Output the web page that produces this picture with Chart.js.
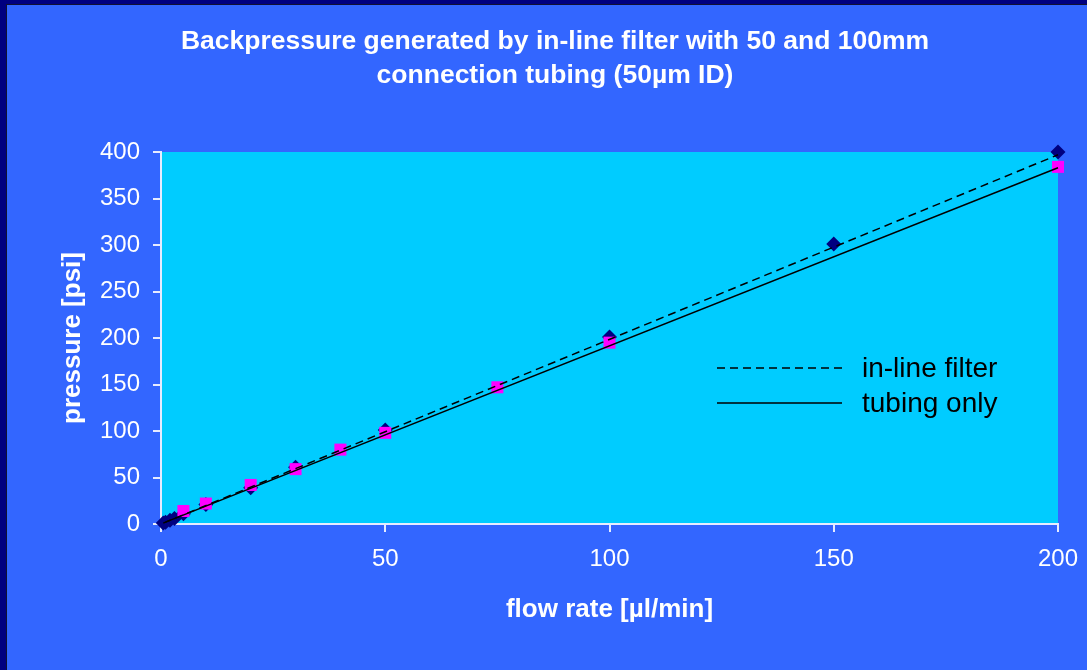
<!DOCTYPE html>
<html>
<head>
<meta charset="utf-8">
<title>Backpressure</title>
<script src="https://cdn.jsdelivr.net/npm/chart.js@4.4.1/dist/chart.umd.min.js"></script>
<style>
  html, body { margin: 0; padding: 0; background: #3366ff; }
  canvas { display: block; }
</style>
</head>
<body>
<canvas id="myChart" width="1087" height="670"></canvas>
<script>
// 유량(µl/min) 별 압력(psi) 측정값
var filterFlow = [0.5, 1, 2, 3, 5, 10, 20, 30, 50, 100, 150, 200];
var filterPressure = [1, 2, 4, 6, 11, 21, 39, 61, 101, 201, 301, 400];
var tubingFlow = [5, 10, 20, 30, 40, 50, 75, 100, 200];
var tubingPressure = [14, 22, 42, 59, 80, 98, 147, 195, 384];

// 추세선 양 끝점
var filterTrendFlow = [0.5, 200];
var filterTrendPressure = [1, 397];
var tubingTrendFlow = [1, 200];
var tubingTrendPressure = [2, 383];

var xTicks = [0, 50, 100, 150, 200];
var yTicks = [0, 50, 100, 150, 200, 250, 300, 350, 400];
var seriesNames = ['in-line filter', 'tubing only'];
var titleLines = ['Backpressure generated by in-line filter with 50 and 100mm', 'connection tubing (50\u00b5m ID)'];

var FONT = '"Liberation Sans", Arial, sans-serif';

function toPoints(xs, ys) {
    return xs.map(function (x, i) { return { x: x, y: ys[i] }; });
}

// 배경, 테두리, 플롯영역 색칠
var backgroundPlugin = {
    id: 'background',
    beforeDraw: function (chart) {
        var c = chart.ctx, a = chart.chartArea;
        c.save();
        c.fillStyle = '#000080';
        c.fillRect(0, 0, chart.width, chart.height);
        c.fillStyle = '#111133';
        c.fillRect(6, 4, chart.width, chart.height);
        c.fillStyle = '#3366ff';
        c.fillRect(7, 5, chart.width, chart.height);
        c.fillStyle = '#00ccff';
        c.fillRect(a.left, a.top, a.right - a.left, a.bottom - a.top);
        c.restore();
    }
};

// 제목 + 차트 안쪽 범례
var textPlugin = {
    id: 'texts',
    afterDraw: function (chart) {
        var c = chart.ctx;
        c.save();
        c.fillStyle = '#ffffff';
        c.font = 'bold 26.5px ' + FONT;
        c.textAlign = 'center';
        c.textBaseline = 'middle';
        c.fillText(titleLines[0], 555, 42);
        c.fillText(titleLines[1], 555, 76);

        var rows = [chart.data.datasets[0], chart.data.datasets[1]];
        var rowY = [368, 403];
        c.font = '28px ' + FONT;
        c.textAlign = 'left';
        c.fillStyle = '#000000';
        rows.forEach(function (ds, i) {
            c.strokeStyle = ds.borderColor;
            c.lineWidth = ds.borderWidth;
            c.setLineDash(ds.borderDash || []);
            c.beginPath();
            c.moveTo(717, rowY[i]);
            c.lineTo(842, rowY[i]);
            c.stroke();
            c.setLineDash([]);
            c.fillText(seriesNames[i], 862, rowY[i] + 1);
        });
        c.restore();
    }
};

var ctx = document.getElementById('myChart');
var myChart = new Chart(ctx, {
    type: 'scatter',
    data: {
        datasets: [{
            label: seriesNames[0] + ' trend',
            data: toPoints(filterTrendFlow, filterTrendPressure),
            showLine: true,
            borderColor: '#000000',
            borderWidth: 1.5,
            borderDash: [8, 5],
            pointRadius: 0,
            clip: false
        }, {
            label: seriesNames[1] + ' trend',
            data: toPoints(tubingTrendFlow, tubingTrendPressure),
            showLine: true,
            borderColor: '#000000',
            borderWidth: 1.5,
            pointRadius: 0,
            clip: false
        }, {
            label: seriesNames[1],
            data: toPoints(tubingFlow, tubingPressure),
            pointStyle: 'rect',
            pointRadius: 8.5,
            pointBackgroundColor: '#ff00ff',
            pointBorderWidth: 0,
            showLine: false,
            clip: false
        }, {
            label: seriesNames[0],
            data: toPoints(filterFlow, filterPressure),
            pointStyle: 'rectRot',
            pointRadius: 7.5,
            pointBackgroundColor: '#000080',
            pointBorderWidth: 0,
            showLine: false,
            clip: false
        }]
    },
    options: {
        responsive: false,
        animation: false,
        devicePixelRatio: 1,
        layout: {
            padding: { top: 152, right: 29, left: 0, bottom: 0 }
        },
        plugins: {
            legend: { display: false },
            title: { display: false },
            tooltip: { enabled: false }
        },
        scales: {
            x: {
                type: 'linear',
                min: 0,
                max: 200,
                afterBuildTicks: function (s) { s.ticks = xTicks.map(function (v) { return { value: v }; }); },
                afterFit: function (s) {
                    s.height = 146;
                    s.paddingLeft = 0;   // 양끝 라벨 여백 무시
                    s.paddingRight = 0;
                },
                grid: { drawOnChartArea: false, drawTicks: true, tickLength: 8, color: '#e6ecff', lineWidth: 2 },
                border: { display: true, color: '#e6ecff', width: 2 },
                ticks: { color: '#ffffff', padding: 13, font: { family: FONT, size: 24 } },
                title: {
                    display: true,
                    text: 'flow rate [\u00b5l/min]',
                    color: '#ffffff',
                    font: { family: FONT, size: 26, weight: 'bold' },
                    padding: { top: 0, bottom: 45 }
                }
            },
            y: {
                type: 'linear',
                min: 0,
                max: 400,
                afterBuildTicks: function (s) { s.ticks = yTicks.map(function (v) { return { value: v }; }); },
                afterFit: function (s) { s.width = 161; },
                grid: { drawOnChartArea: false, drawTicks: true, tickLength: 8, color: '#e6ecff', lineWidth: 2 },
                border: { display: true, color: '#e6ecff', width: 2 },
                ticks: { color: '#ffffff', padding: 13, font: { family: FONT, size: 24 } },
                title: {
                    display: true,
                    text: 'pressure [psi]',
                    color: '#ffffff',
                    font: { family: FONT, size: 26, weight: 'bold' },
                    padding: { top: 57, bottom: 0 }
                }
            }
        }
    },
    plugins: [backgroundPlugin, textPlugin]
});
</script>
</body>
</html>
